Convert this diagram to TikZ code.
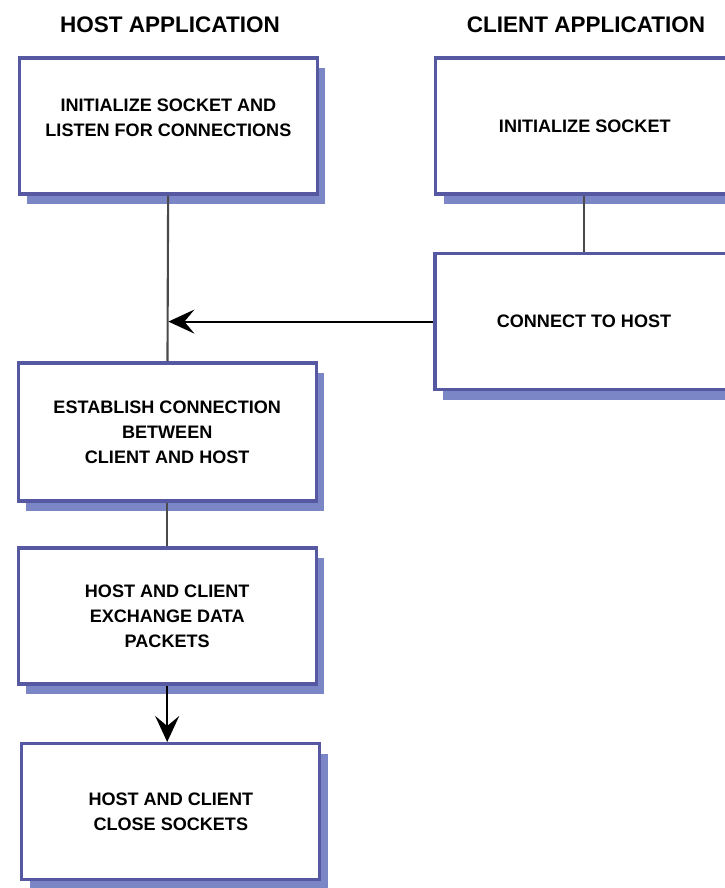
\documentclass[tikz,border=0pt]{standalone}
\usepackage{fontspec}
\setmainfont{Liberation Sans}
\usepackage{tikz}
\usetikzlibrary{
  positioning,
  arrows.meta,
  shadows
}
\usepackage{xcolor}
\definecolor{boxline}{HTML}{5659A2}
\definecolor{boxshade}{HTML}{7B86C6}
\definecolor{wire}{HTML}{4A4A4A}

\begin{document}
\begin{tikzpicture}[
  stage/.style={draw=boxline, line width=2.3pt, fill=white, minimum width=7.45cm,
               minimum height=3.4cm, align=center,
               font=\bfseries\fontsize{12.85}{17.8}\selectfont,
               general shadow={fill=boxshade, shadow xshift=0.2cm, shadow yshift=-0.25cm}},
  heading/.style={font=\bfseries\fontsize{16}{19}\selectfont},
  wireline/.style={draw=wire, line width=1.5pt},
  arr/.style={-{Stealth[length=0.65cm, width=0.6cm, inset=0.25cm]}, line width=1.5pt, black}
]
  \useasboundingbox (0,0) rectangle (18.1,-22.2);

  % Column headings
  \node[heading] (hosttitle) at (4.25, -0.63) {HOST APPLICATION};
  \node[heading] (clienttitle) at (14.65, -0.63) {CLIENT APPLICATION};

  % Host side
  \node[stage] (hostinit) at (4.21, -3.15) {
    INITIALIZE SOCKET AND\\
    LISTEN FOR CONNECTIONS\\[-6.4pt]
  };

  \node[stage, minimum height=3.45cm] (establish) at (4.18, -10.8) {
    ESTABLISH CONNECTION\\
    BETWEEN\\
    CLIENT AND HOST
  };

  \node[stage] (exchange) at (4.18, -15.4) {
    HOST AND CLIENT\\
    EXCHANGE DATA\\
    PACKETS
  };

  \node[stage] (closesock) at (4.27, -20.29) {
    HOST AND CLIENT\\
    CLOSE SOCKETS
  };

  % Client side
  \node[stage] (clientinit) at (14.62, -3.15) {INITIALIZE SOCKET};
  \node[stage] (connect) at (14.6, -8.04) {CONNECT TO HOST};

  % Connectors
  \draw[wireline] (hostinit) -- (establish);
  \draw[wireline] (establish) -- (exchange);
  \draw[wireline] (clientinit.south -| connect.north) -- (connect);
  \draw[arr] (connect) -- (connect -| hostinit.south);
  \draw[arr] (exchange.south) -- (exchange.south |- closesock.north);

\end{tikzpicture}
\end{document}
